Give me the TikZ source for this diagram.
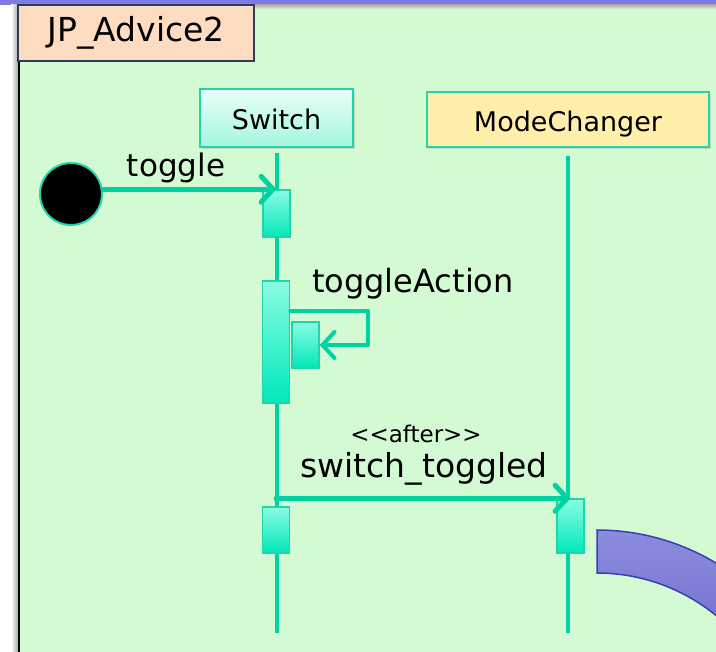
\documentclass[tikz,border=0pt]{standalone}
\usepackage{fontspec}
\setmainfont{DejaVu Sans}
\usetikzlibrary{positioning}
\usetikzlibrary{arrows.meta}
\usetikzlibrary{shadows}

\definecolor{panelgreen}{HTML}{D4FAD4}
\definecolor{tabpeach}{HTML}{FDDCC1}
\definecolor{tabborder}{HTML}{2E3B5C}
\definecolor{seqteal}{HTML}{00D2A2}
\definecolor{boxteal}{HTML}{22D4AA}
\definecolor{actlight}{HTML}{8AFCE2}
\definecolor{actdark}{HTML}{00E8BA}
\definecolor{swlight}{HTML}{E8FFF8}
\definecolor{swdark}{HTML}{A4F6DF}
\definecolor{mcyellow}{HTML}{FFEFAB}
\definecolor{bandblue}{HTML}{7B7BE2}
\definecolor{ringlight}{HTML}{8C8CDE}
\definecolor{ringdark}{HTML}{6A6ACB}
\definecolor{ringborder}{HTML}{3C3CB4}

\newcommand{\fsz}[1]{\fontsize{#1}{#1}\selectfont}

\tikzset{
  lifebox/.style={draw=boxteal, line width=2pt, inner sep=0pt, text height=24pt, text depth=0pt,
    drop shadow={opacity=0.25, shadow xshift=2pt, shadow yshift=-2pt}},
  act/.style={draw=boxteal, line width=1.5pt, top color=actlight, bottom color=actdark,
    minimum width=27pt, inner sep=0pt},
  life/.style={draw=seqteal, line width=4pt},
  msg/.style={draw=seqteal, line width=5pt, line cap=round, line join=round,
    -{Straight Barb[length=12pt, width=26pt, line cap=round]}},
  lbl/.style={inner sep=0pt, text=black},
}

\begin{document}
\begin{tikzpicture}[x=1pt, y=-1pt]
    \useasboundingbox (0,0) rectangle (716,652) ; %
% frame
    \fill[bandblue] (0,0) rectangle (716,5) ; %
    \fill[panelgreen] (18,5) rectangle (716,652) ; %
    \shade[top color=black!30, bottom color=panelgreen] (18,5) rectangle (716,9) ; %
    \shade[left color=white, right color=black!35] (11,5) rectangle (18,652) ; %
    \draw[black, line width=2pt] (18.5,5) -- (18.5,652) ; %
    \node[lbl, draw=tabborder, line width=1.5pt, fill=tabpeach, minimum width=236pt, minimum height=56pt] (title) at (136,33) {\fsz{33}JP\_Advice2} ; %
% participants
    \node[lifebox, top color=swlight, bottom color=swdark, minimum width=153pt, minimum height=58pt] (switch) at (276.5,118) {\fsz{27}Switch} ; %
    \node[lifebox, fill=mcyellow, minimum width=282pt, minimum height=55pt] (modechanger) at (568,119.5) {\fsz{27}ModeChanger} ; %
    \coordinate (life_end) at (0,633) ; %
    \draw[life] ([yshift=-5pt]switch.south) -- (switch.south |- life_end) ; %
    \draw[life] ([yshift=-8pt]modechanger.south) -- (modechanger.south |- life_end) ; %
% activations
    \node[act, minimum height=47pt] (sw_act1) at (276.5,213.5) {} ; %
    \node[act, minimum height=122pt] (sw_act2) at (276,342) {} ; %
    \node[act, minimum height=46pt] (nested) at (305.5,345) {} ; %
    \node[act, minimum height=46pt] (sw_act3) at (276,530) {} ; %
    \node[act, minimum height=54pt] (mc_act) at (570.5,526) {} ; %
% start
    \node[circle, fill=black, draw=boxteal, line width=2pt, minimum size=62pt, inner sep=0pt] (start) at (71,194) {} ; %
% messages
    \draw[msg] (start.east |- sw_act1.north) -- (sw_act1.north) ; %
    \node[lbl, anchor=base] (toggle_lbl) at (176,177) {\fsz{31}toggle} ; %
    \draw[msg, line width=4pt] ([yshift=-31pt]sw_act2.north east) -- ++(78,0) |- (nested.east) ; %
    \node[lbl, anchor=base west] (toggleAction_lbl) at (312,293) {\fsz{32}toggleAction} ; %
    \draw[msg] (sw_act2.south |- mc_act.north) -- (mc_act.north) ; %
    \node[lbl, anchor=base] (after_lbl) at (416,443) {\fsz{23}<{}<after>{}>} ; %
    \node[lbl, anchor=base] (toggled_lbl) at (424,478) {\fsz{33}switch\_toggled} ; %
% ring
    \path[top color=ringlight, bottom color=ringdark, draw=ringborder, line width=1.5pt]
      plot[domain=270:330, samples=40, variable=\t] ({597+231*cos(\t)}, {761+231*sin(\t)})
      -- plot[domain=330:270, samples=40, variable=\t] ({597+188*cos(\t)}, {761+188*sin(\t)})
      -- cycle ; %
\end{tikzpicture}
\end{document}
